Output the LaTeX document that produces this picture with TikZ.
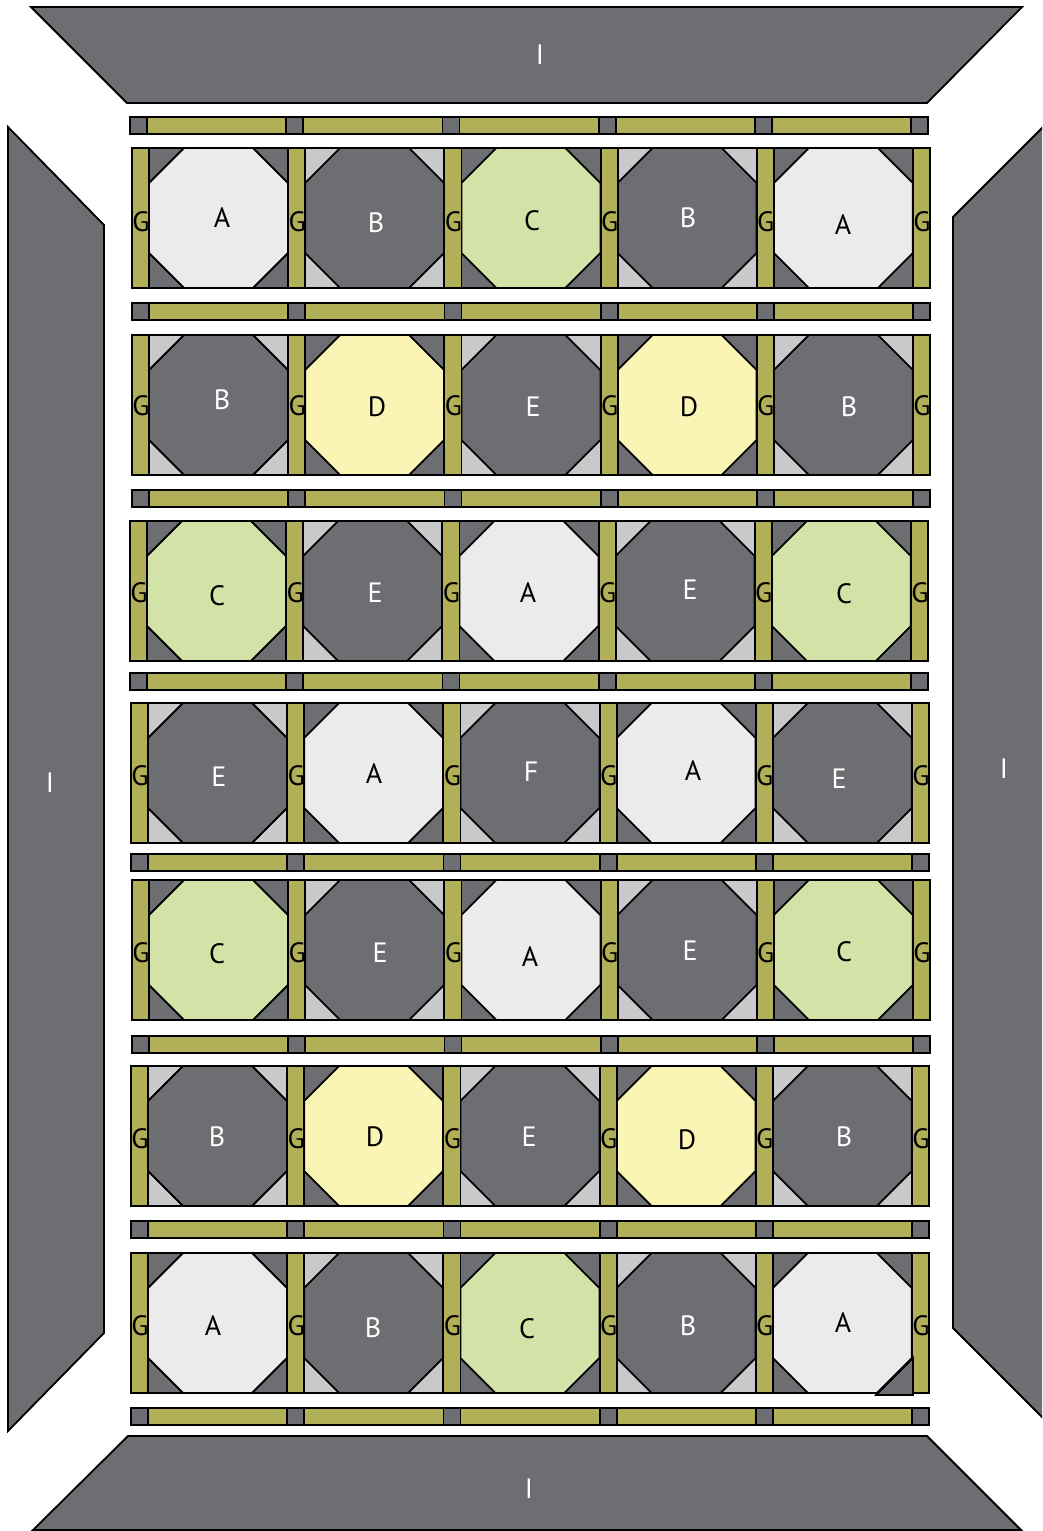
\documentclass[tikz,border=0pt]{standalone}
\usepackage{fontspec}
\setmainfont{PT Sans}
\definecolor{qgray}{HTML}{6D6E71}
\definecolor{qlight}{HTML}{C8C9CB}
\definecolor{qA}{HTML}{EBEBEB}
\definecolor{qC}{HTML}{D3E3A8}
\definecolor{qD}{HTML}{FAF5B5}
\definecolor{qG}{HTML}{B2AF59}
\colorlet{ctrA}{qA}\colorlet{corA}{qgray}
\colorlet{ctrC}{qC}\colorlet{corC}{qgray}
\colorlet{ctrD}{qD}\colorlet{corD}{qgray}
\colorlet{ctrB}{qgray}\colorlet{corB}{qlight}
\colorlet{ctrE}{qgray}\colorlet{corE}{qlight}
\colorlet{ctrF}{qgray}\colorlet{corF}{qlight}
\colorlet{txtA}{black}\colorlet{txtC}{black}\colorlet{txtD}{black}
\colorlet{txtB}{white}\colorlet{txtE}{white}\colorlet{txtF}{white}
\tikzset{
  piece/.style={draw=black,line width=1.8pt,line join=miter},
  lbl/.style={inner sep=0pt,font=\fontsize{28}{32}\selectfont},
  borderpiece/.style={piece,fill=qgray},
}
\newcommand\qblock[4]{%
  \fill[#4] (#1,#2) rectangle ++(139,140);
  \draw[piece,fill=#3] (#1+35,#2) -- (#1+104,#2) -- (#1+139,#2+35) -- (#1+139,#2+105)
     -- (#1+104,#2+140) -- (#1+35,#2+140) -- (#1,#2+105) -- (#1,#2+35) -- cycle;
  \draw[piece] (#1,#2) rectangle ++(139,140);
}
\newcommand\qrow[4]{% x0, y0, G label y, types
  \foreach \t [count=\i from 0] in {#4} {
    \pgfmathsetmacro\bx{#1+17+156.2*\i}
    \qblock{\bx}{#2}{ctr\t}{cor\t}
  }
  \foreach \i in {0,...,5} {
    \draw[piece,fill=qG] (#1+156.2*\i,#2) rectangle ++(17,140);
    \node[lbl] (g-#2-\i) at (#1+9+156.2*\i,#3) {G};
  }
}
\newcommand\qsash[2]{%
  \foreach \i in {0,...,5} {
    \draw[piece,fill=qgray] (#1+156.2*\i,#2) rectangle ++(17,17);
  }
  \foreach \i in {0,...,4} {
    \draw[piece,fill=qG] (#1+17+156.2*\i,#2) rectangle ++(139.2,17);
  }
}
\begin{document}
\begin{tikzpicture}[x=1pt,y=-1pt]
\useasboundingbox (0,0) rectangle (1042,1531);
\clip (0,0) rectangle (1042,1531);
\fill[white] (0,0) rectangle (1042,1531);
% borders
\draw[borderpiece] (31,7) -- (1022,7) -- (927,103) -- (127,103) -- cycle;
\draw[borderpiece] (8,127) -- (104,225) -- (104,1333) -- (8,1431) -- cycle;
\draw[borderpiece] (953,217) -- (1043,127) -- (1060,127) -- (1060,1418) -- (1043,1418) -- (953,1328) -- cycle;
\draw[borderpiece] (128,1436) -- (927,1436) -- (1021,1530) -- (33,1530) -- cycle;
\node[lbl,text=white] (itop) at (540,55) {I};
\node[lbl,text=white] (ileft) at (50,783) {I};
\node[lbl,text=white] (iright) at (1004,769) {I};
\node[lbl,text=white] (ibottom) at (529,1489) {I};
% sashing
\qsash{130}{117}
\qsash{132}{303}
\qsash{132}{490}
\qsash{130}{673}
\qsash{131}{854}
\qsash{132}{1036}
\qsash{131}{1221}
\qsash{131}{1408}
% rows
\qrow{132}{148}{222}{A,B,C,B,A}
\qrow{132}{335}{406}{B,D,E,D,B}
\qrow{130}{521}{593}{C,E,A,E,C}
\qrow{131}{703}{776}{E,A,F,A,E}
\qrow{132}{880}{953}{C,E,A,E,C}
\qrow{131}{1066}{1139}{B,D,E,D,B}
\qrow{131}{1253}{1326}{A,B,C,B,A}
% small offset corner piece at the bottom right of the last block
\draw[piece,fill=qgray] (876,1395) -- (913,1358) -- (913,1395) -- cycle;
% block labels
\foreach \t/\x/\y [count=\k] in {
  A/222/218, B/376/223, C/532/221, B/688/218, A/843/225,
  B/222/400, D/377/407, E/533/407, D/689/407, B/849/407,
  C/217/596, E/375/593, A/528/593, E/690/590, C/844/594,
  E/219/777, A/374/774, F/531/772, A/693/771, E/839/779,
  C/217/954, E/380/953, A/530/957, E/690/951, C/844/952,
  B/217/1137, D/375/1137, E/529/1137, D/687/1140, B/844/1137,
  A/213/1326, B/373/1328, C/527/1329, B/688/1326, A/843/1323} {
  \node[lbl,text=txt\t] (blk-\k) at (\x,\y) {\t};
}
\end{tikzpicture}
\end{document}
